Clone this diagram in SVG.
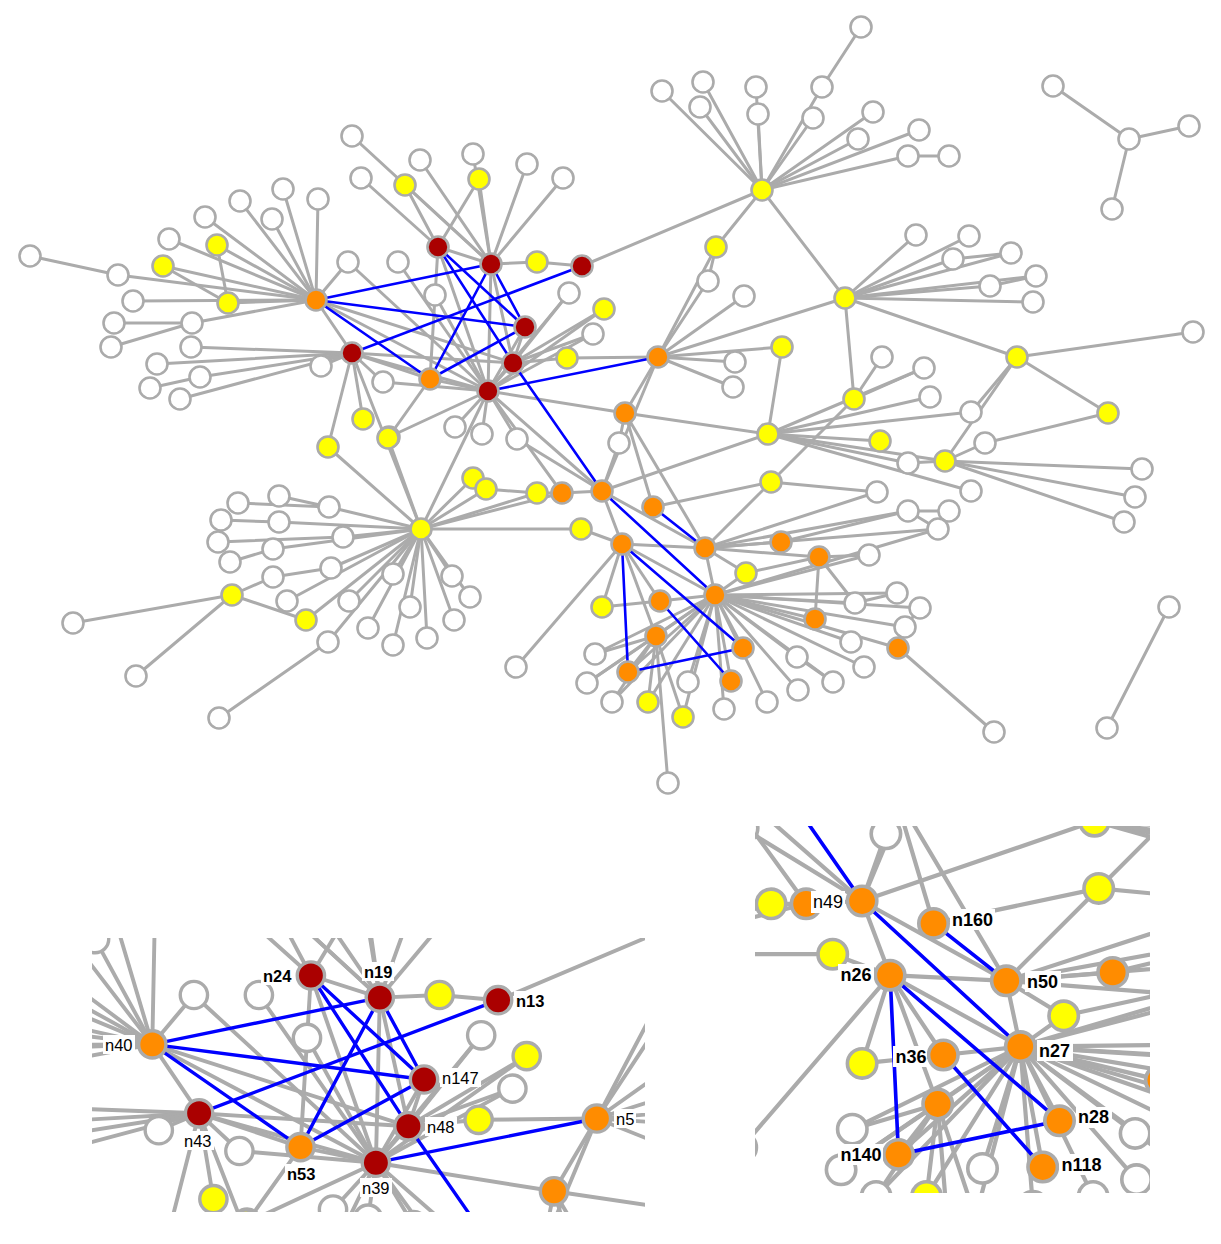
<svg xmlns="http://www.w3.org/2000/svg" xmlns:xlink="http://www.w3.org/1999/xlink" width="1221" height="1244" viewBox="0 0 1221 1244">
<style>
.e line{stroke:#ABABAB;stroke-width:3;stroke-linecap:round}
.b line{stroke:#0000FF;stroke-width:2.6;stroke-linecap:round}
circle{stroke:#ABABAB;stroke-width:2.6}
.w{fill:#FFFFFF}.y{fill:#FFFF00}.o{fill:#FF8C00}.r{fill:#AA0000}
.lb{font-family:"Liberation Sans",Arial,sans-serif;fill:#000}
.bd{font-weight:bold}
.bg{fill:#FFFFFF}
</style>
<defs>
<clipPath id="clipL"><rect x="92" y="938" width="553" height="274"/></clipPath>
<clipPath id="clipR"><rect x="755" y="826" width="395" height="367"/></clipPath>
</defs>
<rect width="1221" height="1244" fill="#FFFFFF"/>
<g id="graph">
<g id="connectors">
<g class="e">
<line x1="316" y1="300" x2="118" y2="275"/><line x1="316" y1="300" x2="169" y2="239"/><line x1="316" y1="300" x2="217" y2="245"/><line x1="316" y1="300" x2="163" y2="266"/><line x1="316" y1="300" x2="205" y2="217"/><line x1="316" y1="300" x2="240" y2="201"/><line x1="316" y1="300" x2="283" y2="189"/><line x1="316" y1="300" x2="318" y2="199"/><line x1="316" y1="300" x2="272" y2="219"/><line x1="316" y1="300" x2="133" y2="301"/><line x1="316" y1="300" x2="228" y2="303"/><line x1="316" y1="300" x2="192" y2="323"/><line x1="316" y1="300" x2="352" y2="353"/><line x1="316" y1="300" x2="488" y2="391"/><line x1="316" y1="300" x2="513" y2="363"/><line x1="316" y1="300" x2="348" y2="262"/>
<line x1="30" y1="256" x2="118" y2="275"/><line x1="114" y1="323" x2="192" y2="323"/><line x1="111" y1="347" x2="192" y2="323"/><line x1="217" y1="245" x2="228" y2="303"/><line x1="163" y1="266" x2="228" y2="303"/>
<line x1="352" y1="353" x2="191" y2="347"/><line x1="352" y1="353" x2="157" y2="364"/><line x1="352" y1="353" x2="200" y2="377"/><line x1="352" y1="353" x2="180" y2="399"/><line x1="352" y1="353" x2="321" y2="366"/><line x1="352" y1="353" x2="383" y2="382"/><line x1="352" y1="353" x2="363" y2="419"/><line x1="352" y1="353" x2="328" y2="447"/><line x1="352" y1="353" x2="488" y2="391"/><line x1="352" y1="353" x2="430" y2="379"/><line x1="352" y1="353" x2="513" y2="363"/><line x1="352" y1="353" x2="421" y2="529"/><line x1="150" y1="388" x2="200" y2="377"/>
<line x1="488" y1="391" x2="348" y2="262"/><line x1="488" y1="391" x2="398" y2="262"/><line x1="488" y1="391" x2="435" y2="295"/><line x1="488" y1="391" x2="383" y2="382"/><line x1="488" y1="391" x2="389" y2="437"/><line x1="488" y1="391" x2="455" y2="427"/><line x1="488" y1="391" x2="482" y2="434"/><line x1="488" y1="391" x2="517" y2="439"/><line x1="488" y1="391" x2="569" y2="293"/><line x1="488" y1="391" x2="604" y2="309"/><line x1="488" y1="391" x2="593" y2="334"/><line x1="488" y1="391" x2="430" y2="379"/><line x1="488" y1="391" x2="513" y2="363"/><line x1="488" y1="391" x2="525" y2="327"/><line x1="488" y1="391" x2="491" y2="264"/><line x1="488" y1="391" x2="438" y2="247"/><line x1="488" y1="391" x2="625" y2="413"/><line x1="488" y1="391" x2="421" y2="529"/><line x1="488" y1="391" x2="602" y2="491"/><line x1="488" y1="391" x2="562" y2="493"/>
<line x1="491" y1="264" x2="352" y2="136"/><line x1="491" y1="264" x2="405" y2="185"/><line x1="491" y1="264" x2="420" y2="160"/><line x1="491" y1="264" x2="473" y2="154"/><line x1="491" y1="264" x2="479" y2="179"/><line x1="491" y1="264" x2="527" y2="164"/><line x1="491" y1="264" x2="563" y2="178"/><line x1="491" y1="264" x2="537" y2="262"/><line x1="491" y1="264" x2="438" y2="247"/><line x1="491" y1="264" x2="513" y2="363"/>
<line x1="438" y1="247" x2="361" y2="178"/><line x1="438" y1="247" x2="479" y2="179"/><line x1="438" y1="247" x2="405" y2="185"/><line x1="438" y1="247" x2="430" y2="379"/>
<line x1="582" y1="266" x2="537" y2="262"/><line x1="582" y1="266" x2="762" y2="190"/>
<line x1="513" y1="363" x2="569" y2="293"/><line x1="513" y1="363" x2="593" y2="334"/><line x1="513" y1="363" x2="567" y2="358"/><line x1="513" y1="363" x2="604" y2="309"/><line x1="513" y1="363" x2="525" y2="327"/>
<line x1="567" y1="358" x2="658" y2="357"/><line x1="388" y1="438" x2="430" y2="379"/>
<line x1="658" y1="357" x2="625" y2="413"/><line x1="658" y1="357" x2="716" y2="247"/><line x1="658" y1="357" x2="708" y2="281"/><line x1="658" y1="357" x2="744" y2="296"/><line x1="658" y1="357" x2="782" y2="347"/><line x1="658" y1="357" x2="735" y2="362"/><line x1="658" y1="357" x2="733" y2="387"/><line x1="658" y1="357" x2="845" y2="298"/><line x1="658" y1="357" x2="602" y2="491"/>
<line x1="625" y1="413" x2="619" y2="443"/><line x1="625" y1="413" x2="705" y2="548"/><line x1="625" y1="413" x2="653" y2="507"/><line x1="619" y1="443" x2="602" y2="491"/>
<line x1="762" y1="190" x2="822" y2="87"/><line x1="762" y1="190" x2="813" y2="118"/><line x1="762" y1="190" x2="662" y2="91"/><line x1="762" y1="190" x2="703" y2="82"/><line x1="762" y1="190" x2="700" y2="107"/><line x1="762" y1="190" x2="756" y2="87"/><line x1="762" y1="190" x2="758" y2="114"/><line x1="762" y1="190" x2="873" y2="112"/><line x1="762" y1="190" x2="858" y2="139"/><line x1="762" y1="190" x2="919" y2="130"/><line x1="762" y1="190" x2="908" y2="156"/><line x1="762" y1="190" x2="716" y2="247"/><line x1="762" y1="190" x2="845" y2="298"/>
<line x1="861" y1="27" x2="822" y2="87"/><line x1="908" y1="156" x2="949" y2="156"/><line x1="716" y1="247" x2="708" y2="281"/>
<line x1="1129" y1="139" x2="1053" y2="86"/><line x1="1129" y1="139" x2="1189" y2="126"/><line x1="1129" y1="139" x2="1112" y2="209"/>
<line x1="845" y1="298" x2="916" y2="235"/><line x1="845" y1="298" x2="969" y2="236"/><line x1="845" y1="298" x2="953" y2="259"/><line x1="845" y1="298" x2="1011" y2="253"/><line x1="845" y1="298" x2="990" y2="286"/><line x1="845" y1="298" x2="1036" y2="276"/><line x1="845" y1="298" x2="1033" y2="302"/><line x1="845" y1="298" x2="1017" y2="357"/><line x1="845" y1="298" x2="854" y2="399"/>
<line x1="953" y1="259" x2="1011" y2="253"/><line x1="990" y1="286" x2="1036" y2="276"/>
<line x1="1017" y1="357" x2="1193" y2="332"/><line x1="1017" y1="357" x2="1108" y2="413"/><line x1="1017" y1="357" x2="971" y2="412"/><line x1="1017" y1="357" x2="945" y2="461"/><line x1="1108" y1="413" x2="985" y2="443"/>
<line x1="945" y1="461" x2="985" y2="443"/><line x1="945" y1="461" x2="908" y2="463"/><line x1="945" y1="461" x2="1142" y2="469"/><line x1="945" y1="461" x2="1135" y2="497"/><line x1="945" y1="461" x2="1124" y2="522"/><line x1="945" y1="461" x2="768" y2="434"/>
<line x1="768" y1="434" x2="782" y2="347"/><line x1="768" y1="434" x2="930" y2="397"/><line x1="768" y1="434" x2="971" y2="412"/><line x1="768" y1="434" x2="880" y2="441"/><line x1="768" y1="434" x2="908" y2="463"/><line x1="768" y1="434" x2="971" y2="491"/><line x1="768" y1="434" x2="625" y2="413"/><line x1="768" y1="434" x2="602" y2="491"/><line x1="768" y1="434" x2="924" y2="368"/>
<line x1="854" y1="399" x2="882" y2="357"/><line x1="854" y1="399" x2="924" y2="368"/><line x1="854" y1="399" x2="771" y2="482"/>
<line x1="771" y1="482" x2="705" y2="548"/><line x1="771" y1="482" x2="877" y2="492"/><line x1="771" y1="482" x2="653" y2="507"/>
<line x1="705" y1="548" x2="877" y2="492"/><line x1="705" y1="548" x2="908" y2="511"/><line x1="705" y1="548" x2="938" y2="529"/><line x1="705" y1="548" x2="781" y2="542"/><line x1="705" y1="548" x2="819" y2="557"/><line x1="705" y1="548" x2="602" y2="491"/><line x1="705" y1="548" x2="622" y2="544"/><line x1="705" y1="548" x2="715" y2="595"/><line x1="705" y1="548" x2="746" y2="573"/>
<line x1="908" y1="511" x2="949" y2="511"/><line x1="938" y1="529" x2="908" y2="511"/><line x1="781" y1="542" x2="908" y2="511"/>
<line x1="819" y1="557" x2="869" y2="555"/><line x1="819" y1="557" x2="746" y2="573"/><line x1="819" y1="557" x2="815" y2="619"/><line x1="819" y1="557" x2="855" y2="603"/>
<line x1="715" y1="595" x2="746" y2="573"/><line x1="715" y1="595" x2="855" y2="603"/><line x1="715" y1="595" x2="897" y2="593"/><line x1="715" y1="595" x2="920" y2="608"/><line x1="715" y1="595" x2="905" y2="627"/><line x1="715" y1="595" x2="815" y2="619"/><line x1="715" y1="595" x2="851" y2="642"/><line x1="715" y1="595" x2="898" y2="648"/><line x1="715" y1="595" x2="864" y2="667"/><line x1="715" y1="595" x2="797" y2="657"/><line x1="715" y1="595" x2="833" y2="682"/><line x1="715" y1="595" x2="798" y2="690"/><line x1="715" y1="595" x2="767" y2="702"/><line x1="715" y1="595" x2="724" y2="709"/><line x1="715" y1="595" x2="688" y2="682"/><line x1="715" y1="595" x2="683" y2="717"/><line x1="715" y1="595" x2="648" y2="702"/><line x1="715" y1="595" x2="612" y2="702"/><line x1="715" y1="595" x2="587" y2="683"/><line x1="715" y1="595" x2="595" y2="654"/><line x1="715" y1="595" x2="656" y2="636"/><line x1="715" y1="595" x2="660" y2="601"/><line x1="715" y1="595" x2="622" y2="544"/><line x1="715" y1="595" x2="731" y2="681"/><line x1="715" y1="595" x2="743" y2="648"/><line x1="715" y1="595" x2="628" y2="672"/><line x1="715" y1="595" x2="938" y2="529"/><line x1="715" y1="595" x2="869" y2="555"/>
<line x1="855" y1="603" x2="897" y2="593"/><line x1="920" y1="608" x2="905" y2="627"/><line x1="797" y1="657" x2="833" y2="682"/>
<line x1="898" y1="648" x2="994" y2="732"/><line x1="1169" y1="607" x2="1107" y2="728"/>
<line x1="656" y1="636" x2="595" y2="654"/><line x1="656" y1="636" x2="587" y2="683"/><line x1="656" y1="636" x2="612" y2="702"/><line x1="656" y1="636" x2="648" y2="702"/><line x1="656" y1="636" x2="668" y2="783"/><line x1="656" y1="636" x2="628" y2="672"/><line x1="656" y1="636" x2="683" y2="717"/><line x1="656" y1="636" x2="622" y2="544"/>
<line x1="660" y1="601" x2="622" y2="544"/><line x1="660" y1="601" x2="602" y2="607"/><line x1="602" y1="607" x2="622" y2="544"/>
<line x1="622" y1="544" x2="516" y2="667"/><line x1="622" y1="544" x2="602" y2="491"/><line x1="622" y1="544" x2="581" y2="529"/>
<line x1="421" y1="529" x2="473" y2="478"/><line x1="421" y1="529" x2="486" y2="489"/><line x1="421" y1="529" x2="537" y2="493"/><line x1="421" y1="529" x2="562" y2="493"/><line x1="421" y1="529" x2="581" y2="529"/><line x1="421" y1="529" x2="388" y2="438"/><line x1="421" y1="529" x2="328" y2="447"/><line x1="421" y1="529" x2="329" y2="507"/><line x1="421" y1="529" x2="279" y2="522"/><line x1="421" y1="529" x2="343" y2="537"/><line x1="421" y1="529" x2="273" y2="549"/><line x1="421" y1="529" x2="331" y2="568"/><line x1="421" y1="529" x2="287" y2="601"/><line x1="421" y1="529" x2="306" y2="620"/><line x1="421" y1="529" x2="349" y2="601"/><line x1="421" y1="529" x2="393" y2="574"/><line x1="421" y1="529" x2="410" y2="607"/><line x1="421" y1="529" x2="368" y2="628"/><line x1="421" y1="529" x2="393" y2="645"/><line x1="421" y1="529" x2="328" y2="642"/><line x1="421" y1="529" x2="452" y2="576"/><line x1="421" y1="529" x2="470" y2="597"/><line x1="421" y1="529" x2="454" y2="620"/><line x1="421" y1="529" x2="427" y2="638"/>
<line x1="238" y1="503" x2="329" y2="507"/><line x1="279" y1="496" x2="329" y2="507"/><line x1="221" y1="520" x2="279" y2="522"/><line x1="218" y1="542" x2="343" y2="537"/><line x1="230" y1="562" x2="273" y2="549"/><line x1="273" y1="577" x2="331" y2="568"/>
<line x1="232" y1="595" x2="73" y2="623"/><line x1="232" y1="595" x2="136" y2="676"/><line x1="232" y1="595" x2="273" y2="577"/><line x1="232" y1="595" x2="306" y2="620"/><line x1="328" y1="642" x2="219" y2="718"/>
<line x1="486" y1="489" x2="537" y2="493"/><line x1="537" y1="493" x2="562" y2="493"/><line x1="562" y1="493" x2="602" y2="491"/><line x1="602" y1="491" x2="517" y2="439"/>
</g>
<g class="b">
<line x1="316" y1="300" x2="491" y2="264"/><line x1="316" y1="300" x2="525" y2="327"/><line x1="316" y1="300" x2="430" y2="379"/><line x1="352" y1="353" x2="582" y2="266"/><line x1="438" y1="247" x2="525" y2="327"/><line x1="438" y1="247" x2="513" y2="363"/><line x1="491" y1="264" x2="430" y2="379"/><line x1="491" y1="264" x2="525" y2="327"/><line x1="525" y1="327" x2="430" y2="379"/><line x1="488" y1="391" x2="658" y2="357"/><line x1="513" y1="363" x2="602" y2="491"/><line x1="602" y1="491" x2="715" y2="595"/><line x1="653" y1="507" x2="705" y2="548"/><line x1="622" y1="544" x2="743" y2="648"/><line x1="622" y1="544" x2="628" y2="672"/><line x1="660" y1="601" x2="731" y2="681"/><line x1="628" y1="672" x2="743" y2="648"/>
</g>
</g>
<g id="nodes">
<g id="v1"><circle class="w" cx="30" cy="256" r="10.5"/></g>
<g id="v2"><circle class="w" cx="118" cy="275" r="10.5"/></g>
<g id="v3"><circle class="w" cx="169" cy="239" r="10.5"/></g>
<g id="v4"><circle class="y" cx="217" cy="245" r="10.5"/></g>
<g id="v5"><circle class="y" cx="163" cy="266" r="10.5"/></g>
<g id="v6"><circle class="w" cx="205" cy="217" r="10.5"/></g>
<g id="v7"><circle class="w" cx="240" cy="201" r="10.5"/></g>
<g id="v8"><circle class="w" cx="283" cy="189" r="10.5"/></g>
<g id="v9"><circle class="w" cx="318" cy="199" r="10.5"/></g>
<g id="v10"><circle class="w" cx="272" cy="219" r="10.5"/></g>
<g id="v11"><circle class="w" cx="133" cy="301" r="10.5"/></g>
<g id="v12"><circle class="y" cx="228" cy="303" r="10.5"/></g>
<g id="v13"><circle class="w" cx="114" cy="323" r="10.5"/></g>
<g id="v14"><circle class="w" cx="192" cy="323" r="10.5"/></g>
<g id="v15"><circle class="w" cx="111" cy="347" r="10.5"/></g>
<g id="v16"><circle class="w" cx="191" cy="347" r="10.5"/></g>
<g id="v17"><circle class="w" cx="157" cy="364" r="10.5"/></g>
<g id="v18"><circle class="w" cx="200" cy="377" r="10.5"/></g>
<g id="v19"><circle class="w" cx="150" cy="388" r="10.5"/></g>
<g id="v20"><circle class="w" cx="180" cy="399" r="10.5"/></g>
<g id="v21"><circle class="w" cx="321" cy="366" r="10.5"/></g>
<g id="v22"><circle class="w" cx="348" cy="262" r="10.5"/></g>
<g id="v23"><circle class="w" cx="398" cy="262" r="10.5"/></g>
<g id="v24"><circle class="w" cx="383" cy="382" r="10.5"/></g>
<g id="v25"><circle class="y" cx="363" cy="419" r="10.5"/></g>
<g id="v26"><circle class="w" cx="352" cy="136" r="10.5"/></g>
<g id="v27"><circle class="w" cx="361" cy="178" r="10.5"/></g>
<g id="v28"><circle class="y" cx="405" cy="185" r="10.5"/></g>
<g id="v29"><circle class="w" cx="420" cy="160" r="10.5"/></g>
<g id="v30"><circle class="w" cx="473" cy="154" r="10.5"/></g>
<g id="v31"><circle class="y" cx="479" cy="179" r="10.5"/></g>
<g id="v32"><circle class="w" cx="527" cy="164" r="10.5"/></g>
<g id="v33"><circle class="w" cx="563" cy="178" r="10.5"/></g>
<g id="v34"><circle class="y" cx="537" cy="262" r="10.5"/></g>
<g id="v35"><circle class="w" cx="569" cy="293" r="10.5"/></g>
<g id="v36"><circle class="y" cx="604" cy="309" r="10.5"/></g>
<g id="v37"><circle class="w" cx="435" cy="295" r="10.5"/></g>
<g id="v38"><circle class="w" cx="593" cy="334" r="10.5"/></g>
<g id="v39"><circle class="y" cx="567" cy="358" r="10.5"/></g>
<g id="v40"><circle class="o" cx="625" cy="413" r="10.5"/></g>
<g id="v41"><circle class="y" cx="389" cy="437" r="10.5"/></g>
<g id="v42"><circle class="w" cx="455" cy="427" r="10.5"/></g>
<g id="v43"><circle class="w" cx="482" cy="434" r="10.5"/></g>
<g id="v44"><circle class="w" cx="517" cy="439" r="10.5"/></g>
<g id="v45"><circle class="w" cx="619" cy="443" r="10.5"/></g>
<g id="v46"><circle class="y" cx="328" cy="447" r="10.5"/></g>
<g id="v47"><circle class="y" cx="762" cy="190" r="10.5"/></g>
<g id="v48"><circle class="w" cx="861" cy="27" r="10.5"/></g>
<g id="v49"><circle class="w" cx="822" cy="87" r="10.5"/></g>
<g id="v50"><circle class="w" cx="813" cy="118" r="10.5"/></g>
<g id="v51"><circle class="w" cx="662" cy="91" r="10.5"/></g>
<g id="v52"><circle class="w" cx="703" cy="82" r="10.5"/></g>
<g id="v53"><circle class="w" cx="700" cy="107" r="10.5"/></g>
<g id="v54"><circle class="w" cx="756" cy="87" r="10.5"/></g>
<g id="v55"><circle class="w" cx="758" cy="114" r="10.5"/></g>
<g id="v56"><circle class="w" cx="873" cy="112" r="10.5"/></g>
<g id="v57"><circle class="w" cx="858" cy="139" r="10.5"/></g>
<g id="v58"><circle class="w" cx="919" cy="130" r="10.5"/></g>
<g id="v59"><circle class="w" cx="908" cy="156" r="10.5"/></g>
<g id="v60"><circle class="w" cx="949" cy="156" r="10.5"/></g>
<g id="v61"><circle class="y" cx="716" cy="247" r="10.5"/></g>
<g id="v62"><circle class="w" cx="708" cy="281" r="10.5"/></g>
<g id="v63"><circle class="w" cx="744" cy="296" r="10.5"/></g>
<g id="v64"><circle class="w" cx="1129" cy="139" r="10.5"/></g>
<g id="v65"><circle class="w" cx="1053" cy="86" r="10.5"/></g>
<g id="v66"><circle class="w" cx="1189" cy="126" r="10.5"/></g>
<g id="v67"><circle class="w" cx="1112" cy="209" r="10.5"/></g>
<g id="v68"><circle class="y" cx="845" cy="298" r="10.5"/></g>
<g id="v69"><circle class="w" cx="916" cy="235" r="10.5"/></g>
<g id="v70"><circle class="w" cx="969" cy="236" r="10.5"/></g>
<g id="v71"><circle class="w" cx="953" cy="259" r="10.5"/></g>
<g id="v72"><circle class="w" cx="1011" cy="253" r="10.5"/></g>
<g id="v73"><circle class="w" cx="990" cy="286" r="10.5"/></g>
<g id="v74"><circle class="w" cx="1036" cy="276" r="10.5"/></g>
<g id="v75"><circle class="w" cx="1033" cy="302" r="10.5"/></g>
<g id="v76"><circle class="y" cx="1017" cy="357" r="10.5"/></g>
<g id="v77"><circle class="w" cx="1193" cy="332" r="10.5"/></g>
<g id="v78"><circle class="y" cx="1108" cy="413" r="10.5"/></g>
<g id="v79"><circle class="w" cx="971" cy="412" r="10.5"/></g>
<g id="v80"><circle class="w" cx="985" cy="443" r="10.5"/></g>
<g id="v81"><circle class="y" cx="945" cy="461" r="10.5"/></g>
<g id="v82"><circle class="w" cx="908" cy="463" r="10.5"/></g>
<g id="v83"><circle class="w" cx="1142" cy="469" r="10.5"/></g>
<g id="v84"><circle class="w" cx="1135" cy="497" r="10.5"/></g>
<g id="v85"><circle class="w" cx="1124" cy="522" r="10.5"/></g>
<g id="v86"><circle class="w" cx="971" cy="491" r="10.5"/></g>
<g id="v87"><circle class="w" cx="924" cy="368" r="10.5"/></g>
<g id="v88"><circle class="w" cx="930" cy="397" r="10.5"/></g>
<g id="v89"><circle class="w" cx="882" cy="357" r="10.5"/></g>
<g id="v90"><circle class="y" cx="854" cy="399" r="10.5"/></g>
<g id="v91"><circle class="y" cx="768" cy="434" r="10.5"/></g>
<g id="v92"><circle class="y" cx="880" cy="441" r="10.5"/></g>
<g id="v93"><circle class="y" cx="782" cy="347" r="10.5"/></g>
<g id="v94"><circle class="w" cx="735" cy="362" r="10.5"/></g>
<g id="v95"><circle class="w" cx="733" cy="387" r="10.5"/></g>
<g id="v96"><circle class="y" cx="771" cy="482" r="10.5"/></g>
<g id="v97"><circle class="w" cx="877" cy="492" r="10.5"/></g>
<g id="v98"><circle class="w" cx="908" cy="511" r="10.5"/></g>
<g id="v99"><circle class="w" cx="949" cy="511" r="10.5"/></g>
<g id="v100"><circle class="w" cx="938" cy="529" r="10.5"/></g>
<g id="v101"><circle class="o" cx="781" cy="542" r="10.5"/></g>
<g id="v102"><circle class="o" cx="819" cy="557" r="10.5"/></g>
<g id="v103"><circle class="w" cx="869" cy="555" r="10.5"/></g>
<g id="v104"><circle class="y" cx="746" cy="573" r="10.5"/></g>
<g id="v105"><circle class="w" cx="855" cy="603" r="10.5"/></g>
<g id="v106"><circle class="w" cx="897" cy="593" r="10.5"/></g>
<g id="v107"><circle class="w" cx="920" cy="608" r="10.5"/></g>
<g id="v108"><circle class="w" cx="905" cy="627" r="10.5"/></g>
<g id="v109"><circle class="o" cx="815" cy="619" r="10.5"/></g>
<g id="v110"><circle class="w" cx="851" cy="642" r="10.5"/></g>
<g id="v111"><circle class="o" cx="898" cy="648" r="10.5"/></g>
<g id="v112"><circle class="w" cx="864" cy="667" r="10.5"/></g>
<g id="v113"><circle class="w" cx="797" cy="657" r="10.5"/></g>
<g id="v114"><circle class="w" cx="833" cy="682" r="10.5"/></g>
<g id="v115"><circle class="w" cx="798" cy="690" r="10.5"/></g>
<g id="v116"><circle class="w" cx="767" cy="702" r="10.5"/></g>
<g id="v117"><circle class="w" cx="724" cy="709" r="10.5"/></g>
<g id="v118"><circle class="w" cx="688" cy="682" r="10.5"/></g>
<g id="v119"><circle class="y" cx="683" cy="717" r="10.5"/></g>
<g id="v120"><circle class="y" cx="648" cy="702" r="10.5"/></g>
<g id="v121"><circle class="w" cx="612" cy="702" r="10.5"/></g>
<g id="v122"><circle class="w" cx="587" cy="683" r="10.5"/></g>
<g id="v123"><circle class="w" cx="595" cy="654" r="10.5"/></g>
<g id="v124"><circle class="o" cx="656" cy="636" r="10.5"/></g>
<g id="v125"><circle class="y" cx="602" cy="607" r="10.5"/></g>
<g id="v126"><circle class="w" cx="516" cy="667" r="10.5"/></g>
<g id="v127"><circle class="w" cx="668" cy="783" r="10.5"/></g>
<g id="v128"><circle class="w" cx="994" cy="732" r="10.5"/></g>
<g id="v129"><circle class="w" cx="1169" cy="607" r="10.5"/></g>
<g id="v130"><circle class="w" cx="1107" cy="728" r="10.5"/></g>
<g id="v131"><circle class="y" cx="581" cy="529" r="10.5"/></g>
<g id="v132"><circle class="y" cx="473" cy="478" r="10.5"/></g>
<g id="v133"><circle class="y" cx="486" cy="489" r="10.5"/></g>
<g id="v134"><circle class="y" cx="537" cy="493" r="10.5"/></g>
<g id="v135"><circle class="o" cx="562" cy="493" r="10.5"/></g>
<g id="v136"><circle class="y" cx="421" cy="529" r="10.5"/></g>
<g id="v137"><circle class="y" cx="388" cy="438" r="10.5"/></g>
<g id="v138"><circle class="w" cx="238" cy="503" r="10.5"/></g>
<g id="v139"><circle class="w" cx="279" cy="496" r="10.5"/></g>
<g id="v140"><circle class="w" cx="329" cy="507" r="10.5"/></g>
<g id="v141"><circle class="w" cx="221" cy="520" r="10.5"/></g>
<g id="v142"><circle class="w" cx="279" cy="522" r="10.5"/></g>
<g id="v143"><circle class="w" cx="343" cy="537" r="10.5"/></g>
<g id="v144"><circle class="w" cx="218" cy="542" r="10.5"/></g>
<g id="v145"><circle class="w" cx="273" cy="549" r="10.5"/></g>
<g id="v146"><circle class="w" cx="230" cy="562" r="10.5"/></g>
<g id="v147"><circle class="w" cx="273" cy="577" r="10.5"/></g>
<g id="v148"><circle class="w" cx="331" cy="568" r="10.5"/></g>
<g id="v149"><circle class="y" cx="232" cy="595" r="10.5"/></g>
<g id="v150"><circle class="w" cx="287" cy="601" r="10.5"/></g>
<g id="v151"><circle class="y" cx="306" cy="620" r="10.5"/></g>
<g id="v152"><circle class="w" cx="349" cy="601" r="10.5"/></g>
<g id="v153"><circle class="w" cx="393" cy="574" r="10.5"/></g>
<g id="v154"><circle class="w" cx="410" cy="607" r="10.5"/></g>
<g id="v155"><circle class="w" cx="368" cy="628" r="10.5"/></g>
<g id="v156"><circle class="w" cx="393" cy="645" r="10.5"/></g>
<g id="v157"><circle class="w" cx="328" cy="642" r="10.5"/></g>
<g id="v158"><circle class="w" cx="73" cy="623" r="10.5"/></g>
<g id="v159"><circle class="w" cx="136" cy="676" r="10.5"/></g>
<g id="v160"><circle class="w" cx="219" cy="718" r="10.5"/></g>
<g id="v161"><circle class="w" cx="452" cy="576" r="10.5"/></g>
<g id="v162"><circle class="w" cx="470" cy="597" r="10.5"/></g>
<g id="v163"><circle class="w" cx="454" cy="620" r="10.5"/></g>
<g id="v164"><circle class="w" cx="427" cy="638" r="10.5"/></g>
<g id="n40"><circle class="o" cx="316" cy="300" r="10.5"/></g>
<g id="n24"><circle class="r" cx="438" cy="247" r="10.5"/></g>
<g id="n19"><circle class="r" cx="491" cy="264" r="10.5"/></g>
<g id="n13"><circle class="r" cx="582" cy="266" r="10.5"/></g>
<g id="n147"><circle class="r" cx="525" cy="327" r="10.5"/></g>
<g id="n48"><circle class="r" cx="513" cy="363" r="10.5"/></g>
<g id="n39"><circle class="r" cx="488" cy="391" r="10.5"/></g>
<g id="n43"><circle class="r" cx="352" cy="353" r="10.5"/></g>
<g id="n53"><circle class="o" cx="430" cy="379" r="10.5"/></g>
<g id="n5"><circle class="o" cx="658" cy="357" r="10.5"/></g>
<g id="n49"><circle class="o" cx="602" cy="491" r="10.5"/></g>
<g id="n160"><circle class="o" cx="653" cy="507" r="10.5"/></g>
<g id="n26"><circle class="o" cx="622" cy="544" r="10.5"/></g>
<g id="n50"><circle class="o" cx="705" cy="548" r="10.5"/></g>
<g id="n27"><circle class="o" cx="715" cy="595" r="10.5"/></g>
<g id="n36"><circle class="o" cx="660" cy="601" r="10.5"/></g>
<g id="n28"><circle class="o" cx="743" cy="648" r="10.5"/></g>
<g id="n140"><circle class="o" cx="628" cy="672" r="10.5"/></g>
<g id="n118"><circle class="o" cx="731" cy="681" r="10.5"/></g>
</g>
</g>
<g id="inset-left">
<g clip-path="url(#clipL)">
<use href="#graph" xlink:href="#graph" transform="matrix(1.3 0 0 1.3 -258.5 654.4)"/>
<g class="lb" font-size="16.5">
<rect class="bg" x="261" y="966" width="32" height="19"/><text class="bd" x="263" y="982">n24</text>
<rect class="bg" x="362" y="962" width="32" height="19"/><text class="bd" x="364" y="978">n19</text>
<rect class="bg" x="514" y="991" width="32" height="19"/><text class="bd" x="516" y="1007">n13</text>
<rect class="bg" x="103" y="1035" width="32" height="19"/><text x="105" y="1051">n40</text>
<rect class="bg" x="440" y="1068" width="41" height="19"/><text x="442" y="1084">n147</text>
<rect class="bg" x="182" y="1131" width="32" height="19"/><text x="184" y="1147">n43</text>
<rect class="bg" x="425" y="1117" width="32" height="19"/><text x="427" y="1133">n48</text>
<rect class="bg" x="614" y="1109" width="22" height="19"/><text x="616" y="1125">n5</text>
<rect class="bg" x="285" y="1164" width="32" height="19"/><text class="bd" x="287" y="1180">n53</text>
<rect class="bg" x="360" y="1178" width="32" height="19"/><text x="362" y="1194">n39</text>
</g>
</g>
</g>
<g id="inset-right">
<g clip-path="url(#clipR)">
<use href="#graph" xlink:href="#graph" transform="matrix(1.4 0 0 1.4 19.3 213.6)"/>
<g class="lb" font-size="18">
<rect class="bg" x="811" y="891" width="34" height="22"/><text x="813" y="907.5">n49</text>
<rect class="bg" x="950" y="909" width="45" height="21"/><text class="bd" x="952" y="925.5">n160</text>
<rect class="bg" x="838" y="964" width="36" height="21"/><text class="bd" x="840.5" y="980.5">n26</text>
<rect class="bg" x="1025" y="971" width="36" height="21"/><text class="bd" x="1027" y="987.5">n50</text>
<rect class="bg" x="1037" y="1040" width="36" height="21"/><text class="bd" x="1039" y="1056.5">n27</text>
<rect class="bg" x="893" y="1046" width="34" height="21"/><text class="bd" x="895.5" y="1062.5">n36</text>
<rect class="bg" x="1076" y="1107" width="36" height="21"/><text class="bd" x="1078" y="1123">n28</text>
<rect class="bg" x="838" y="1144" width="45" height="21"/><text class="bd" x="840.5" y="1160.8">n140</text>
<rect class="bg" x="1059" y="1154" width="45" height="21"/><text class="bd" x="1061.5" y="1170.5">n118</text>
</g>
</g>
</g>
</svg>
